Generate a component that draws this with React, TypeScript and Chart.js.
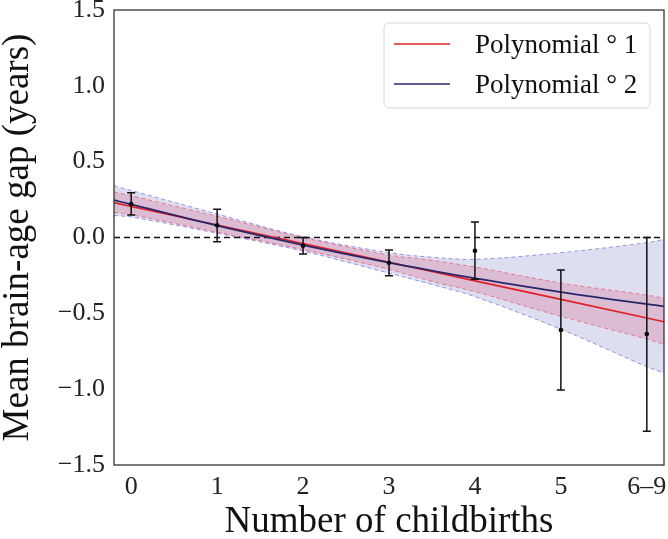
import React, { useEffect, useRef } from 'react';
import { Chart, registerables } from 'chart.js';

Chart.register(...registerables);

// ---- data ----
const categories = [0, 1, 2, 3, 4, 5, 6];
const tickLabels = ['0', '1', '2', '3', '4', '5', '6–9'];
const meanGap = [0.22, 0.08, -0.055, -0.166, -0.088, -0.61, -0.636];
const errLow = [0.148, -0.028, -0.109, -0.252, -0.276, -1.005, -1.278];
const errHigh = [0.295, 0.186, 0.0, -0.082, 0.102, -0.214, 0.0];

const fitX = [-0.2, 0, 1, 2, 3, 3.5, 4, 5, 6, 6.2];
const poly1 = [0.23, 0.205, 0.083, -0.04, -0.163, -0.224, -0.286, -0.408, -0.531, -0.556];
const poly1Upper = [0.3, 0.275, 0.14, 0.0, -0.115, -0.15, -0.195, -0.3, -0.38, -0.4];
const poly1Lower = [0.165, 0.15, 0.035, -0.08, -0.21, -0.29, -0.357, -0.52, -0.67, -0.705];
const poly2 = [0.247, 0.218, 0.078, -0.05, -0.166, -0.219, -0.269, -0.36, -0.439, -0.454];
const poly2Upper = [0.34, 0.31, 0.155, 0.005, -0.1, -0.13, -0.144, -0.1, -0.034, -0.012];
const poly2Lower = [0.145, 0.135, 0.028, -0.09, -0.235, -0.31, -0.39, -0.605, -0.852, -0.893];

const xMin = -0.2;
const xMax = 6.2;
const yTicks = [-1.5, -1.0, -0.5, 0.0, 0.5, 1.0, 1.5];
const legendLabels = ['Polynomial ° 1', 'Polynomial ° 2'];

const RED = 'rgb(226, 30, 38)';
const NAVY = 'rgb(40, 38, 105)';
const FONT = "'Liberation Serif', 'Times New Roman', serif";

const pts = (xs: number[], ys: number[]) => xs.map((x, i) => ({ x, y: ys[i] }));

const frameAndErrorPlugin = {
  id: 'frameAndError',
  afterDatasetsDraw(chart: any) {
    const { ctx, scales } = chart;
    const xs = scales.x;
    const ys = scales.y;
    ctx.save();
    ctx.strokeStyle = '#111';
    ctx.lineWidth = 1.5;
    categories.forEach((c, i) => {
      const px = xs.getPixelForValue(c);
      const pLo = ys.getPixelForValue(errLow[i]);
      const pHi = ys.getPixelForValue(errHigh[i]);
      ctx.beginPath();
      ctx.moveTo(px, pLo);
      ctx.lineTo(px, pHi);
      ctx.moveTo(px - 4, pLo);
      ctx.lineTo(px + 4, pLo);
      ctx.moveTo(px - 4, pHi);
      ctx.lineTo(px + 4, pHi);
      ctx.stroke();
    });
    ctx.restore();
  },
  afterDraw(chart: any) {
    const { ctx, chartArea } = chart;
    ctx.save();
    // frame
    ctx.strokeStyle = '#333';
    ctx.lineWidth = 1.3;
    ctx.strokeRect(chartArea.left, chartArea.top, chartArea.right - chartArea.left, chartArea.bottom - chartArea.top);
    // legend
    const bx = chartArea.right - 280;
    const by = chartArea.top + 13;
    const bw = 266;
    const bh = 85;
    ctx.beginPath();
    (ctx as any).roundRect(bx, by, bw, bh, 5);
    ctx.fillStyle = 'rgba(255,255,255,0.85)';
    ctx.fill();
    ctx.strokeStyle = '#d6d6d6';
    ctx.lineWidth = 1;
    ctx.stroke();
    const colors = [RED, NAVY];
    ctx.font = `27px ${FONT}`;
    ctx.textBaseline = 'middle';
    ctx.textAlign = 'left';
    legendLabels.forEach((lab, i) => {
      const ly = by + 21 + i * 40;
      ctx.strokeStyle = colors[i];
      ctx.lineWidth = 1.5;
      ctx.beginPath();
      ctx.moveTo(bx + 10, ly);
      ctx.lineTo(bx + 66, ly);
      ctx.stroke();
      ctx.fillStyle = '#111';
      ctx.fillText(lab, bx + 91, ly + 2);
    });
    ctx.restore();
  },
};

export default function App() {
  const ref = useRef<HTMLCanvasElement | null>(null);

  useEffect(() => {
    document.body.style.margin = '0';
    if (!ref.current) return;
    Chart.defaults.font.family = FONT;
    const chart = new Chart(ref.current, {
      type: 'line',
      data: {
        datasets: [
          {
            label: 'poly2 upper',
            data: pts(fitX, poly2Upper),
            borderColor: 'rgba(120, 120, 215, 0.75)',
            borderWidth: 1,
            borderDash: [4, 3],
            backgroundColor: 'rgba(80, 80, 178, 0.19)',
            fill: '+1',
            pointRadius: 0,
            tension: 0.35,
            order: 7,
          },
          {
            label: 'poly2 lower',
            data: pts(fitX, poly2Lower),
            borderColor: 'rgba(120, 120, 215, 0.75)',
            borderWidth: 1,
            borderDash: [4, 3],
            fill: false,
            pointRadius: 0,
            tension: 0.35,
            order: 6,
          },
          {
            label: 'poly1 upper',
            data: pts(fitX, poly1Upper),
            borderColor: 'rgba(232, 100, 125, 0.8)',
            borderWidth: 1,
            borderDash: [4, 3],
            backgroundColor: 'rgba(215, 40, 85, 0.19)',
            fill: '+1',
            pointRadius: 0,
            tension: 0.35,
            order: 5,
          },
          {
            label: 'poly1 lower',
            data: pts(fitX, poly1Lower),
            borderColor: 'rgba(232, 100, 125, 0.8)',
            borderWidth: 1,
            borderDash: [4, 3],
            fill: false,
            pointRadius: 0,
            tension: 0.35,
            order: 4,
          },
          {
            label: 'zero',
            data: [
              { x: xMin, y: 0 },
              { x: xMax, y: 0 },
            ],
            borderColor: '#111',
            borderWidth: 1.4,
            borderDash: [6, 4],
            pointRadius: 0,
            fill: false,
            order: 3,
          },
          {
            label: legendLabels[0],
            data: pts(fitX, poly1),
            borderColor: RED,
            borderWidth: 1.6,
            pointRadius: 0,
            fill: false,
            order: 2,
          },
          {
            label: legendLabels[1],
            data: pts(fitX, poly2),
            borderColor: NAVY,
            borderWidth: 1.8,
            pointRadius: 0,
            fill: false,
            tension: 0.35,
            order: 1,
          },
          {
            label: 'mean',
            data: pts(categories, meanGap),
            showLine: false,
            pointRadius: 2.3,
            pointBackgroundColor: '#000',
            pointBorderColor: '#000',
            pointBorderWidth: 0,
            order: 0,
          },
        ],
      },
      options: {
        animation: false,
        responsive: true,
        maintainAspectRatio: false,
        layout: { padding: { top: 10, right: 1, left: 0, bottom: 0 } },
        plugins: {
          legend: { display: false },
          tooltip: { enabled: false },
        },
        scales: {
          x: {
            type: 'linear',
            min: xMin,
            max: xMax,
            grid: { display: false, drawTicks: false },
            border: { display: false },
            afterBuildTicks: (scale: any) => {
              scale.ticks = categories.map((v) => ({ value: v }));
            },
            afterFit: (scale: any) => {
              scale.height = 74;
              scale.paddingLeft = 0;
              scale.paddingRight = 0;
            },
            ticks: {
              padding: 7,
              color: '#222',
              font: { size: 26, family: FONT },
              maxRotation: 0,
              autoSkip: false,
              callback: (v: any) => {
                const i = categories.indexOf(Number(v));
                return i >= 0 ? tickLabels[i] : '';
              },
            },
            title: {
              display: true,
              text: 'Number of childbirths',
              color: '#111',
              font: { size: 37, family: FONT, lineHeight: 0.9 },
              padding: { top: 0, bottom: 0 },
            },
          },
          y: {
            type: 'linear',
            min: -1.5,
            max: 1.5,
            grid: { display: false, drawTicks: false },
            border: { display: false },
            afterBuildTicks: (scale: any) => {
              scale.ticks = yTicks.map((v) => ({ value: v }));
            },
            afterFit: (scale: any) => {
              scale.width = 114;
              scale.paddingTop = 0;
              scale.paddingBottom = 0;
            },
            ticks: {
              padding: 9,
              color: '#222',
              font: { size: 26, family: FONT },
              callback: (v: any) => {
                const n = Number(v);
                return (n < 0 ? '−' : '') + Math.abs(n).toFixed(1);
              },
            },
            title: {
              display: true,
              text: 'Mean brain-age gap (years)',
              color: '#111',
              font: { size: 37, family: FONT, lineHeight: 1 },
              padding: { top: 0, bottom: 0 },
            },
          },
        },
      },
      plugins: [frameAndErrorPlugin],
    } as any);
    return () => chart.destroy();
  }, []);

  return (
    <div style={{ position: 'relative', width: 668, height: 539 }}>
      <canvas ref={ref} />
    </div>
  );
}
